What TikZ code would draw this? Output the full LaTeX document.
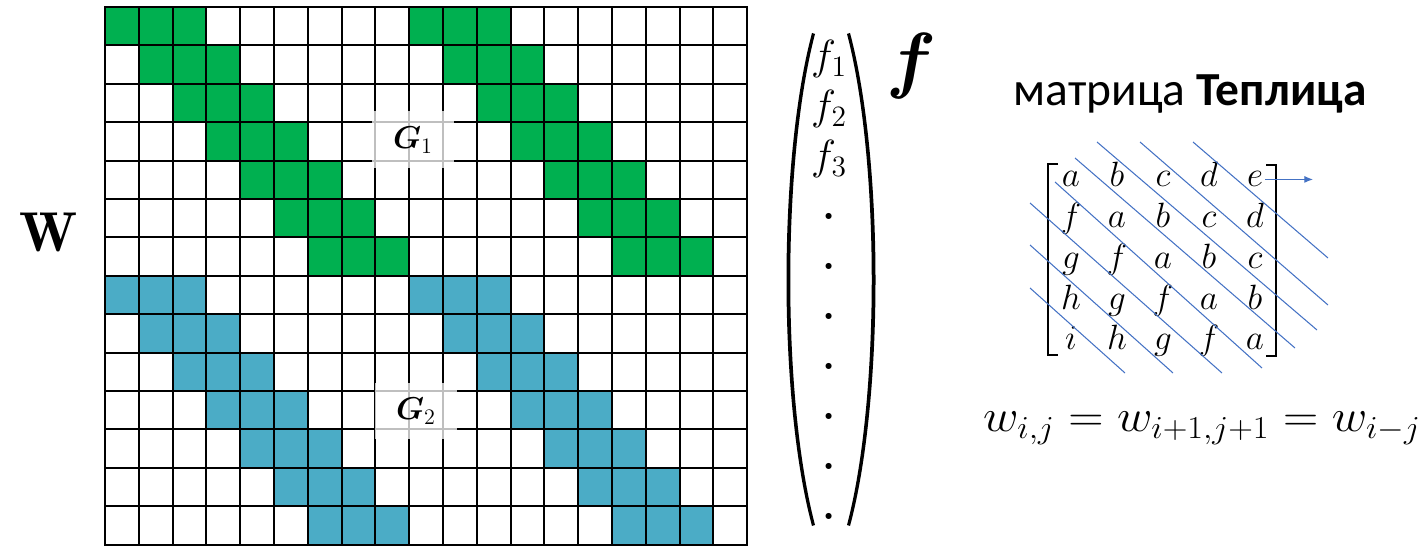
\RequirePackage{fix-cm}
\documentclass[tikz,border=0pt]{standalone}
\usepackage{amsmath,amssymb}
\usepackage{fontspec}
\newfontfamily\calibri{Carlito}
\usetikzlibrary{arrows.meta,calc}

\definecolor{wgreen}{RGB}{0,176,80}
\definecolor{wblue}{RGB}{75,172,198}
\definecolor{diagblue}{RGB}{68,114,196}

\tikzset{
    gridline/.style={line width=1.2pt, line cap=rect},
    gbox/.style={fill=white, fill opacity=0.75, text opacity=1, minimum width=1.66cm, minimum height=1.14cm, inner sep=0pt, font=\fontsize{18}{21}\selectfont},
    fentry/.style={font=\fontsize{24}{28}\selectfont, inner sep=1pt},
    mentry/.style={font=\fontsize{20}{24}\selectfont, inner sep=1pt},
    bracket/.style={line width=1.1pt},
    diagline/.style={diagblue, line width=0.6pt},
}

\begin{document}
\begin{tikzpicture}[x=0.02cm, y=-0.02cm]
    \useasboundingbox (0,0) rectangle (1427,546);

    % weight matrix W
    \node[font=\fontsize{32}{38}\selectfont] (wlabel) at (49,232) {$\mathbf{W}$};

    % G1 (green) and G2 (blue) bands
    \foreach \r in {0,...,6} {
        \foreach \c in {0,1,2} {
            \fill[wgreen] ({105+(\r+\c)*33.8},{7+\r*38.4}) rectangle ++(33.8,38.4);
            \fill[wgreen] ({105+(\r+\c+9)*33.8},{7+\r*38.4}) rectangle ++(33.8,38.4);
            \fill[wblue] ({105+(\r+\c)*33.8},{7+(\r+7)*38.4}) rectangle ++(33.8,38.4);
            \fill[wblue] ({105+(\r+\c+9)*33.8},{7+(\r+7)*38.4}) rectangle ++(33.8,38.4);
        }
    }
    \foreach \c in {0,...,19}
        \draw[gridline] ({105+\c*33.8},7) -- ({105+\c*33.8},544.6);
    \foreach \r in {0,...,14}
        \draw[gridline] (105,{7+\r*38.4}) -- (747.2,{7+\r*38.4});

    \node[gbox] (g1) at (413,140) {$\boldsymbol{G}_1$};
    \node[gbox] (g2) at (416,411) {$\boldsymbol{G}_2$};

    % column vector f
    \foreach \k in {1,2,3}
        \node[fentry, anchor=base] (f\k) at (829,{20+50*\k}) {$f_{\k}$};
    \foreach \k in {4,...,10}
        \node[fentry, anchor=base] (f\k) at (829,{20+50*\k}) {\textbf{.}};
    \fill (812,33) .. controls (778,160) and (778,400) .. (812,526)
        -- (815,525) .. controls (782,400) and (782,160) .. (815,34) -- cycle;
    \fill (850,33) .. controls (884,160) and (884,400) .. (850,526)
        -- (847,525) .. controls (880,400) and (880,160) .. (847,34) -- cycle;
    \node[font=\fontsize{42}{48}\selectfont] (fvec) at (912,66) {$\boldsymbol{f}$};

    % Toeplitz matrix
    \node[font=\calibri\fontsize{27}{32}\selectfont, anchor=base] (title) at (1190,106) {матрица \textbf{Теплица}};
    \foreach \row [count=\r from 0] in {{a,b,c,d,e},{f,a,b,c,d},{g,f,a,b,c},{h,g,f,a,b},{i,h,g,f,a}}
        \foreach \e [count=\c from 0] in \row
            \node[mentry, anchor=base] (m\r\c) at ({1071+46*\c},{187+40.7*\r}) {$\e$};
    \draw[bracket] (1058,164) -- (1048,164) -- (1048,355) -- (1058,355);
    \draw[bracket] (1266,165) -- (1276,165) -- (1276,356) -- (1266,356);

    \foreach \sx/\sy/\ex/\ey in {1030/288/1125/373, 1030/245/1173/373, 1030/203/1222/373, 1055/182/1262/368,
                                 1075/158/1295/348, 1097/142/1317/330, 1140/142/1328/305, 1193/142/1328/258}
        \draw[diagline] (\sx,\sy) -- (\ex,\ey);
    \coordinate (shiftend) at ($(m04.east)+(48,0)$);
    \draw[diagline, -{Latex[length=5pt,width=4pt]}] (m04.east) -- (shiftend);

    \node[font=\fontsize{26}{30}\selectfont, anchor=base] (toeplitz) at (1202,432) {\scalebox{1.07}[1]{$w_{i,j}=w_{i+1,j+1}=w_{i-j}$}};
\end{tikzpicture}
\end{document}
